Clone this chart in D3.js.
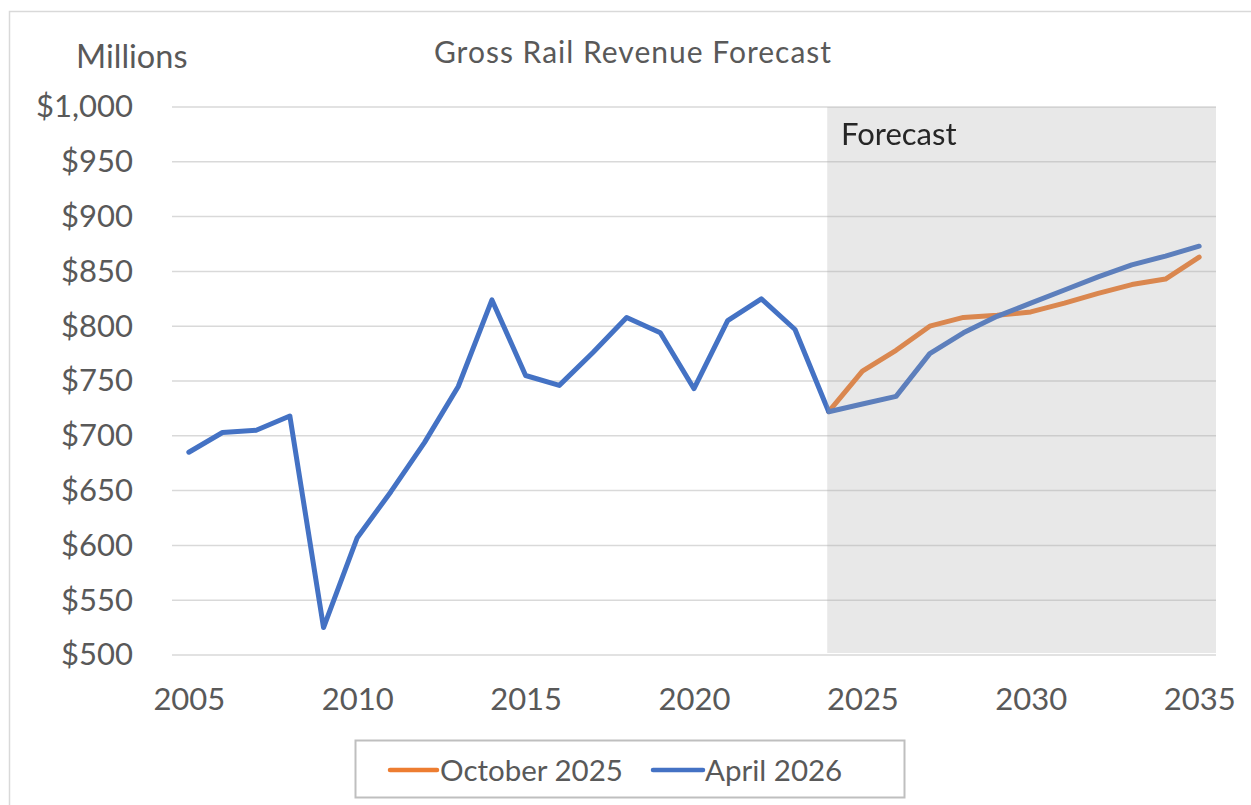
<!DOCTYPE html>
<html>
<head>
<meta charset="utf-8">
<script src="https://cdn.jsdelivr.net/npm/d3@7"></script>
<style>
  html, body { margin: 0; padding: 0; background: #fff; }
  svg { display: block; }
  text { font-family: Lato, "Open Sans", sans-serif; }
</style>
</head>
<body>
<svg id="chart" width="1251" height="805"></svg>
<script>
// Categories (years) and revenue series, $ millions
const years = [2005, 2006, 2007, 2008, 2009, 2010, 2011, 2012, 2013, 2014,
               2015, 2016, 2017, 2018, 2019, 2020, 2021, 2022, 2023, 2024,
               2025, 2026, 2027, 2028, 2029, 2030, 2031, 2032, 2033, 2034, 2035];

// April 2026 forecast: actuals through 2024, forecast thereafter
const april2026 = [685, 703, 705, 718, 525, 607, 649, 694, 745, 824,
                   755, 746, 776, 808, 794, 743, 805, 825, 797, 722,
                   729, 736, 775, 794, 809, 821, 833, 845, 856, 864, 873];

// October 2025 forecast, starting from the 2024 base year
const octYears = [2024, 2025, 2026, 2027, 2028, 2029, 2030, 2031, 2032, 2033, 2034, 2035];
const october2025 = [722, 759, 778, 800, 808, 810, 813, 821, 830, 838, 843, 863];

const yTicks = [500, 550, 600, 650, 700, 750, 800, 850, 900, 950, 1000];
const xTicks = [2005, 2010, 2015, 2020, 2025, 2030, 2035];
const forecastStart = 2024;

const seriesInfo = [
  { name: "October 2025", color: "#ED7D31" },
  { name: "April 2026", color: "#4472C4" }
];

const svg = d3.select("#chart");
const plot = { left: 172, right: 1216, top: 107, bottom: 655 };

const x = d3.scalePoint().domain(years).range([plot.left, plot.right]).padding(0.5);
const y = d3.scaleLinear().domain([500, 1000]).range([plot.bottom, plot.top]);

// Outer chart frame
svg.append("rect")
  .attr("x", 9.5).attr("y", 11.5)
  .attr("width", 1260).attr("height", 820)
  .attr("fill", "none").attr("stroke", "#d9d9d9").attr("stroke-width", 1.5);

// Title and units label
svg.append("text")
  .attr("x", 633).attr("y", 63)
  .attr("text-anchor", "middle")
  .attr("font-size", 30).attr("letter-spacing", 1)
  .attr("fill", "#595959")
  .text("Gross Rail Revenue Forecast");

svg.append("text")
  .attr("x", 76).attr("y", 68)
  .attr("font-size", 32.5).attr("fill", "#595959")
  .text("Millions");

// Horizontal gridlines
svg.append("g")
  .selectAll("line")
  .data(yTicks)
  .join("line")
  .attr("x1", plot.left).attr("x2", plot.right)
  .attr("y1", d => y(d)).attr("y2", d => y(d))
  .attr("stroke", "#d9d9d9").attr("stroke-width", 1.5);

// Y axis labels
const yAxis = d3.axisLeft(y)
  .tickValues(yTicks)
  .tickSize(0)
  .tickPadding(0)
  .tickFormat(d => "$" + d3.format(",")(d));
svg.append("g")
  .attr("transform", "translate(133,0)")
  .call(yAxis)
  .call(g => g.select(".domain").remove())
  .call(g => g.selectAll("text")
    .attr("font-family", "Lato, 'Open Sans', sans-serif")
    .attr("font-size", 31)
    .attr("fill", "#595959"));

// X axis labels
const xAxis = d3.axisBottom(x)
  .tickValues(xTicks)
  .tickSize(0)
  .tickPadding(0);
svg.append("g")
  .attr("transform", "translate(0,688)")
  .call(xAxis)
  .call(g => g.select(".domain").remove())
  .call(g => g.selectAll("text")
    .attr("font-family", "Lato, 'Open Sans', sans-serif")
    .attr("font-size", 31)
    .attr("fill", "#595959"));

// Series lines
const line = d3.line().x(d => x(d[0])).y(d => y(d[1]));

svg.append("path")
  .datum(octYears.map((yr, i) => [yr, october2025[i]]))
  .attr("d", line)
  .attr("fill", "none")
  .attr("stroke", seriesInfo[0].color)
  .attr("stroke-width", 5)
  .attr("stroke-linejoin", "round")
  .attr("stroke-linecap", "round");

svg.append("path")
  .datum(years.map((yr, i) => [yr, april2026[i]]))
  .attr("d", line)
  .attr("fill", "none")
  .attr("stroke", seriesInfo[1].color)
  .attr("stroke-width", 5)
  .attr("stroke-linejoin", "round")
  .attr("stroke-linecap", "round");

// Translucent forecast band over the projection years
svg.append("rect")
  .attr("x", x(forecastStart) - 1.5)
  .attr("y", y(1000))
  .attr("width", plot.right - x(forecastStart) + 1.5)
  .attr("height", y(500) - y(1000) - 2)
  .attr("fill", "#a6a6a6")
  .attr("fill-opacity", 0.26);

const defs = svg.append("defs");
defs.append("filter").attr("id", "soft")
  .append("feGaussianBlur").attr("stdDeviation", 0.7);

svg.append("text")
  .attr("x", 841).attr("y", 145)
  .attr("font-size", 31)
  .attr("fill", "#262626")
  .attr("filter", "url(#soft)")
  .text("Forecast");

// Legend
const legend = svg.append("g");
legend.append("rect")
  .attr("x", 355.5).attr("y", 740.5)
  .attr("width", 549).attr("height", 57)
  .attr("fill", "#fff")
  .attr("stroke", "#bfbfbf").attr("stroke-width", 2);

const legendItems = [
  { lx1: 390, lx2: 437, tx: 440 },
  { lx1: 653, lx2: 703, tx: 705 }
];
legendItems.forEach((p, i) => {
  legend.append("line")
    .attr("x1", p.lx1).attr("x2", p.lx2)
    .attr("y1", 770).attr("y2", 770)
    .attr("stroke", seriesInfo[i].color)
    .attr("stroke-width", 4.5)
    .attr("stroke-linecap", "round");
  legend.append("text")
    .attr("x", p.tx).attr("y", 780.5)
    .attr("font-size", 29.5)
    .attr("fill", "#595959")
    .text(seriesInfo[i].name);
});
</script>
</body>
</html>
